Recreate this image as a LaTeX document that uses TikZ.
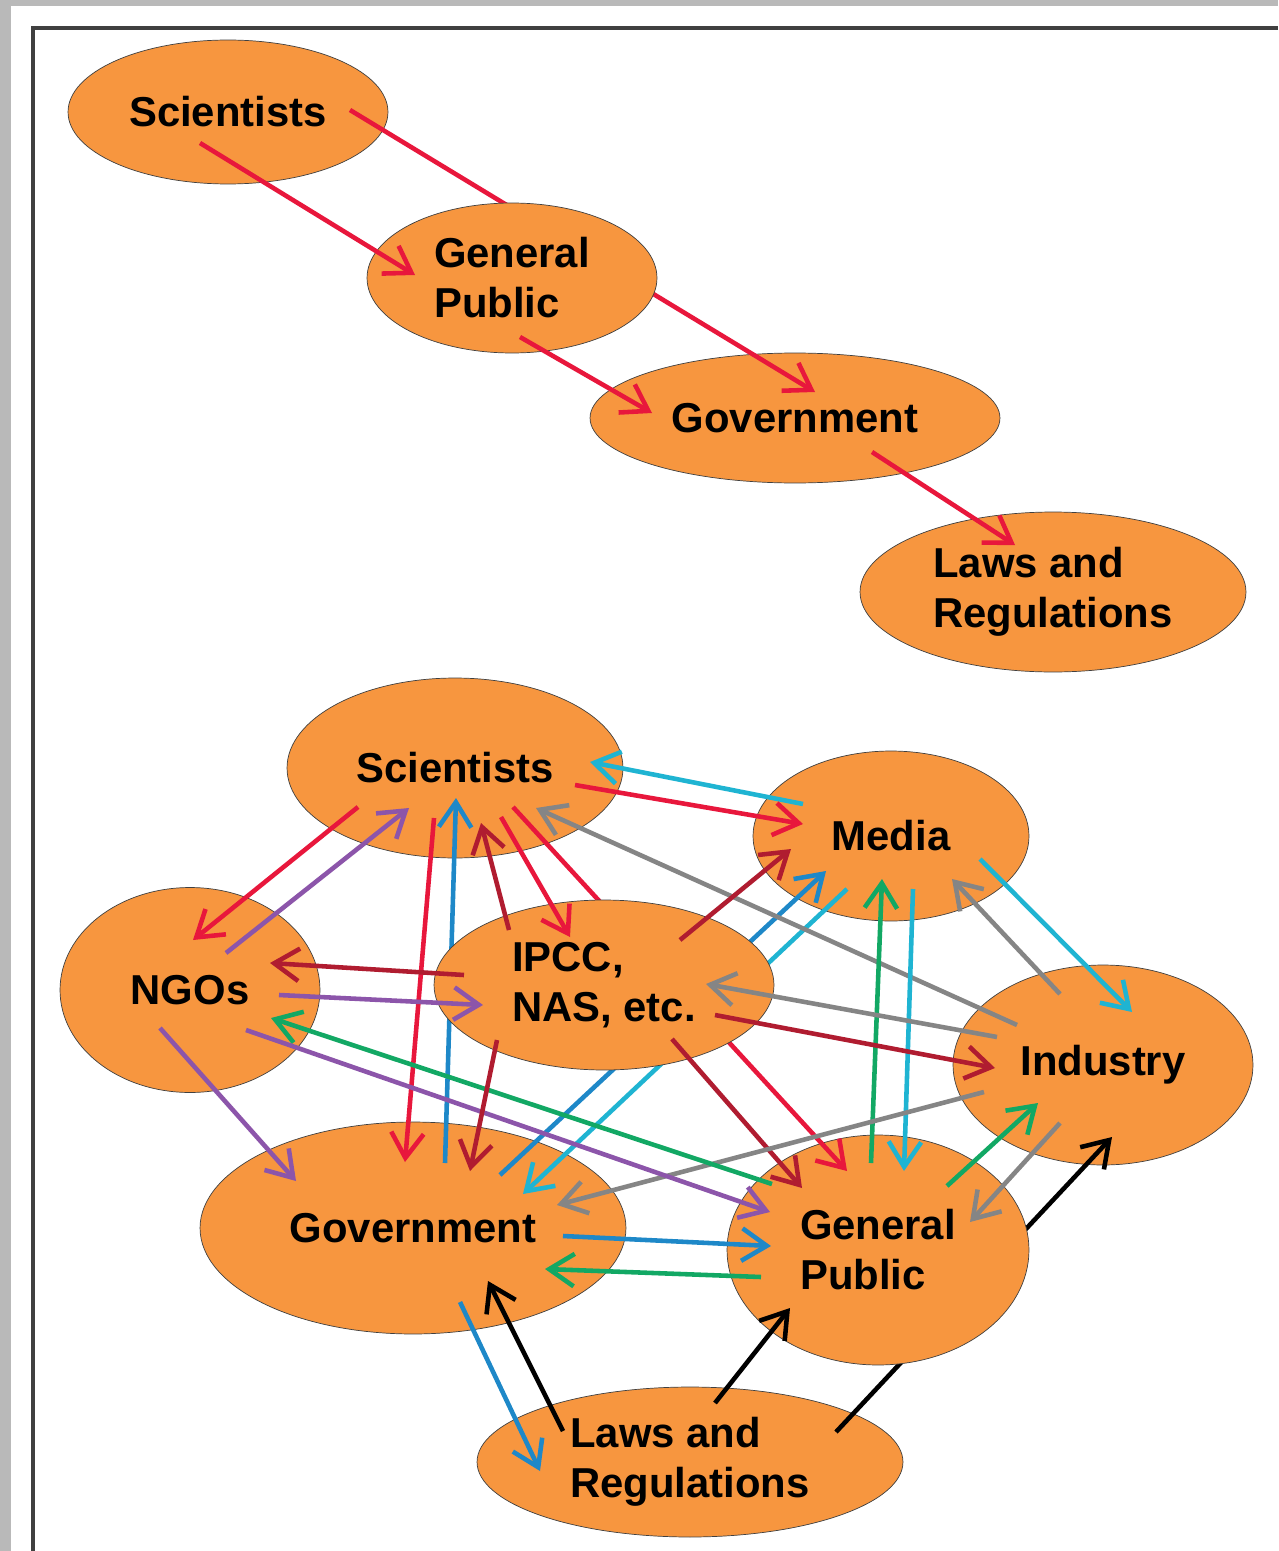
\documentclass[tikz,border=0pt]{standalone}
\usepackage{fontspec}
\setmainfont{Liberation Sans}
\usepackage{tikz}
\usetikzlibrary{shapes.geometric, arrows.meta}

\definecolor{blobfill}{HTML}{F7963F}
\definecolor{linkred}{HTML}{E8173C}
\definecolor{linkmaroon}{HTML}{B01C30}
\definecolor{linkblue}{HTML}{1E88C8}
\definecolor{linkcyan}{HTML}{1FB4D2}
\definecolor{linkgreen}{HTML}{12A864}
\definecolor{linkpurple}{HTML}{8C55AA}
\definecolor{linkgray}{HTML}{858585}

\begin{document}
\begin{tikzpicture}[x=0.02cm, y=-0.02cm,
    blob/.style={ellipse, fill=blobfill, draw=black!75, thin, inner sep=0pt, align=left,
        font=\fontsize{23.8}{28.5}\selectfont\bfseries},
    link/.style={line width=2.6pt, -{Straight Barb[length=5mm, width=6.5mm]}}]
    \useasboundingbox (0,0) rectangle (1278,1551);

    % Frame
    \fill[gray!55] (0,0) rectangle (1278,1551);
    \fill[white] (11,6) rectangle (1278,1551);
    \draw[black!75, line width=2.5pt] (33,1551) -- (33,28) -- (1278,28);

    % Linear model
    \node[blob, minimum width=6.4cm, minimum height=2.88cm] (sciA) at (228,112) {Scientists};
    \node[blob, minimum width=8.2cm, minimum height=2.6cm] (govA) at (795,418) {Government};
    \node[blob, minimum width=7.72cm, minimum height=3.2cm] (lawA) at (1053,592) {Laws and\\Regulations};
    \draw[link, linkred] ([shift={(122,-2)}]sciA.center) -- ([shift={(20,-26)}]govA.center);
    \node[blob, minimum width=5.8cm, minimum height=3cm] (pubA) at (512,278) {General\\Public};
    \draw[link, linkred] ([shift={(-28,31)}]sciA.center) -- ([shift={(-97,-3)}]pubA.center);
    \draw[link, linkred] ([shift={(8,59)}]pubA.center) -- ([shift={(-143,-5)}]govA.center);
    \draw[link, linkred] ([shift={(77,34)}]govA.center) -- ([shift={(-38,-47)}]lawA.center);

    % Network model
    \node[blob, minimum width=6.72cm, minimum height=3.6cm] (sci) at (455,768) {Scientists};
    \node[blob, minimum width=5.52cm, minimum height=3.4cm] (media) at (891,836) {Media};
    \node[blob, minimum width=5.2cm, minimum height=4.1cm] (ngo) at (190,990) {NGOs};
    \node[blob, minimum width=6cm, minimum height=4cm] (ind) at (1103,1065) {Industry};
    \node[blob, minimum width=8.52cm, minimum height=4.24cm] (gov) at (413,1228) {Government};
    \node[blob, minimum width=8.52cm, minimum height=3cm] (law) at (690,1462) {Laws and\\Regulations};
    \draw[link, black] ([shift={(146,-30)}]law.center) -- ([shift={(9,72)}]ind.center);
    \node[blob, minimum width=6.04cm, minimum height=4.6cm] (pub) at (878,1250) {General\\Public};
    \draw[link, linkred] ([shift={(58,39)}]sci.center) -- ([shift={(-31,-79)}]pub.center);
    \draw[link, linkblue] ([shift={(87,-53)}]gov.center) -- ([shift={(-65,35)}]media.center);
    \draw[link, linkcyan] ([shift={(-44,53)}]media.center) -- ([shift={(110,-34)}]gov.center);
    \draw[link, linkblue] ([shift={(32,-65)}]gov.center) -- ([shift={(1,30)}]sci.center);
    \node[blob, minimum width=6.8cm, minimum height=3.4cm] (ipcc) at (604,985) {IPCC,\\NAS, etc.};

    % Scientists
    \draw[link, linkred] ([shift={(-97,39)}]sci.center) -- ([shift={(3,-50)}]ngo.center);
    \draw[link, linkpurple] ([shift={(36,-37)}]ngo.center) -- ([shift={(-46,40)}]sci.center);
    \draw[link, linkred] ([shift={(-21,50)}]sci.center) -- ([shift={(-8,-66)}]gov.center);
    \draw[link, linkmaroon] ([shift={(-95,-55)}]ipcc.center) -- ([shift={(26,55)}]sci.center);
    \draw[link, linkred] ([shift={(46,49)}]sci.center) -- ([shift={(-34,-48)}]ipcc.center);
    \draw[link, linkgray] ([shift={(-86,-40)}]ind.center) -- ([shift={(81,40)}]sci.center);
    \draw[link, linkcyan] ([shift={(-88,-32)}]media.center) -- ([shift={(135,-6)}]sci.center);
    \draw[link, linkred] ([shift={(120,17)}]sci.center) -- ([shift={(-88,-12)}]media.center);

    % Media and Industry
    \draw[link, linkmaroon] ([shift={(76,-45)}]ipcc.center) -- ([shift={(-100,13)}]media.center);
    \draw[link, linkgreen] ([shift={(-7,-87)}]pub.center) -- ([shift={(-9,43)}]media.center);
    \draw[link, linkcyan] ([shift={(22,53)}]media.center) -- ([shift={(26,-79)}]pub.center);
    \draw[link, linkgray] ([shift={(-43,-71)}]ind.center) -- ([shift={(61,43)}]media.center);
    \draw[link, linkcyan] ([shift={(89,23)}]media.center) -- ([shift={(29,-53)}]ind.center);
    \draw[link, linkgray] ([shift={(-106,-28)}]ind.center) -- ([shift={(102,-1)}]ipcc.center);
    \draw[link, linkmaroon] ([shift={(111,30)}]ipcc.center) -- ([shift={(-108,3)}]ind.center);
    \draw[link, linkmaroon] ([shift={(68,54)}]ipcc.center) -- ([shift={(-76,-62)}]pub.center);
    \draw[link, linkgray] ([shift={(-119,27)}]ind.center) -- ([shift={(144,-23)}]gov.center);
    \draw[link, linkgreen] ([shift={(69,-64)}]pub.center) -- ([shift={(-65,38)}]ind.center);
    \draw[link, linkgray] ([shift={(-43,58)}]ind.center) -- ([shift={(92,-28)}]pub.center);

    % NGOs
    \draw[link, linkmaroon] ([shift={(-140,-10)}]ipcc.center) -- ([shift={(80,-27)}]ngo.center);
    \draw[link, linkpurple] ([shift={(89,5)}]ngo.center) -- ([shift={(-121,20)}]ipcc.center);
    \draw[link, linkgreen] ([shift={(-106,-66)}]pub.center) -- ([shift={(81,28)}]ngo.center);
    \draw[link, linkpurple] ([shift={(56,40)}]ngo.center) -- ([shift={(-108,-38)}]pub.center);
    \draw[link, linkpurple] ([shift={(-30,38)}]ngo.center) -- ([shift={(-117,-47)}]gov.center);

    % Government, Public and Laws
    \draw[link, linkmaroon] ([shift={(-107,55)}]ipcc.center) -- ([shift={(57,-57)}]gov.center);
    \draw[link, linkblue] ([shift={(150,8)}]gov.center) -- ([shift={(-107,-4)}]pub.center);
    \draw[link, linkgreen] ([shift={(-117,27)}]pub.center) -- ([shift={(132,41)}]gov.center);
    \draw[link, linkblue] ([shift={(47,74)}]gov.center) -- ([shift={(-150,9)}]law.center);
    \draw[link, black] ([shift={(-127,-31)}]law.center) -- ([shift={(75,53)}]gov.center);
    \draw[link, black] ([shift={(25,-59)}]law.center) -- ([shift={(-88,58)}]pub.center);
\end{tikzpicture}
\end{document}
